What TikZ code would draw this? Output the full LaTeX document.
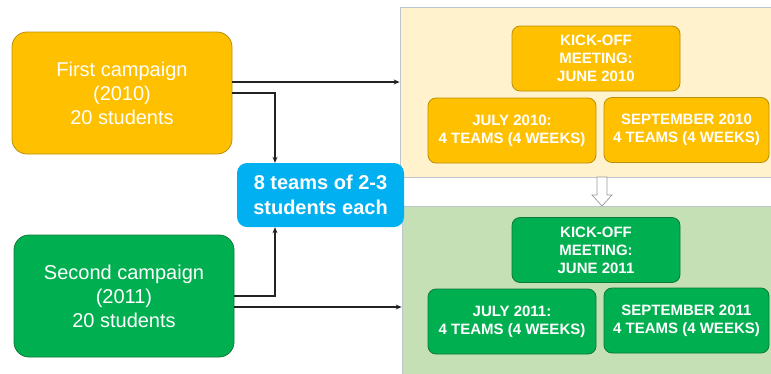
\documentclass[tikz,border=0pt]{standalone}
\usepackage{fontspec}
\setmainfont{Liberation Sans}
\usetikzlibrary{arrows.meta,calc}
\definecolor{orng}{HTML}{FFC000}
\definecolor{orngline}{HTML}{B8900A}
\definecolor{grn}{HTML}{00B050}
\definecolor{grnline}{HTML}{0A7A3A}
\definecolor{skyb}{HTML}{00B0F0}
\definecolor{ypan}{HTML}{FFF2CC}
\definecolor{gpan}{HTML}{C5E0B4}
\definecolor{panline}{HTML}{BCC6D0}
\definecolor{arrline}{HTML}{222222}
\tikzset{
  campaign/.style={rounded corners=15pt, draw, line width=0.8pt, text=white, align=center,
     font=\fontsize{20}{24}\selectfont, inner sep=0pt},
  stagebox/.style={rounded corners=8pt, draw, line width=0.8pt, text=white, align=center,
     font=\fontsize{15}{18}\selectfont\bfseries, inner sep=0pt,
     minimum width=168pt, minimum height=65pt},
  teamsbox/.style={rounded corners=10pt, fill=skyb, text=white, align=center,
     font=\fontsize{20}{25}\selectfont\bfseries, inner sep=0pt},
  panel/.style={draw=panline, line width=0.8pt, inner sep=0pt},
  arr/.style={draw=arrline, line width=1.2pt, -{Stealth[length=6pt,width=5pt]}},
}
\begin{document}
\begin{tikzpicture}[x=1pt,y=-1pt]
\useasboundingbox (0,0) rectangle (771,373);
\clip (0,0) rectangle (771,373);
% panels
\node[panel, fill=ypan, minimum width=380pt, minimum height=170pt] (yp) at (590,92) {};
\node[panel, fill=gpan, minimum width=380pt, minimum height=175pt] (gp) at (592,293.5) {};
% hollow arrow between panels
\draw[draw=gray!80, fill=white, line width=0.7pt] (597,177) -- (607,177) -- (607,195) -- (612,195) -- (602,206) -- (592,195) -- (597,195) -- cycle;
% campaign boxes
\node[campaign, fill=orng, draw=orngline, minimum width=220pt, minimum height=122pt] (fc) at (122,93) {First campaign\\(2010)\\20 students};
\node[campaign, fill=grn, draw=grnline, minimum width=220pt, minimum height=122pt] (sc) at (124,296) {Second campaign\\(2011)\\20 students};
% teams box
\node[teamsbox, minimum width=167pt, minimum height=64pt] (tb) at (320.5,195) {8 teams of 2-3\\students each};
% stage boxes 2010
\node[stagebox, fill=orng, draw=orngline] (k10) at (596,58.5) {KICK-OFF\\MEETING:\\JUNE 2010};
\node[stagebox, fill=orng, draw=orngline] (j10) at (512,130.5) {JULY 2010:\\4 TEAMS (4 WEEKS)};
\node[stagebox, fill=orng, draw=orngline, minimum width=165pt] (s10) at (686.5,130) {SEPTEMBER 2010\\4 TEAMS (4 WEEKS)};
% stage boxes 2011
\node[stagebox, fill=grn, draw=grnline] (k11) at (596,250) {KICK-OFF\\MEETING:\\JUNE 2011};
\node[stagebox, fill=grn, draw=grnline] (j11) at (512,321.5) {JULY 2011:\\4 TEAMS (4 WEEKS)};
\node[stagebox, fill=grn, draw=grnline, minimum width=165pt] (s11) at (686.5,320.5) {SEPTEMBER 2011\\4 TEAMS (4 WEEKS)};
% connectors
\coordinate (jx) at (275,0);
\draw[arr] ([yshift=11pt]fc.east) -- ([yshift=11pt]fc.east -| yp.west);
\draw[arr] (fc.east) -| (jx |- tb.north);
\draw[arr] (sc.east) -| (jx |- tb.south);
\draw[arr] ([yshift=-11pt]sc.east) -- ([yshift=-11pt]sc.east -| gp.west);
\end{tikzpicture}
\end{document}
